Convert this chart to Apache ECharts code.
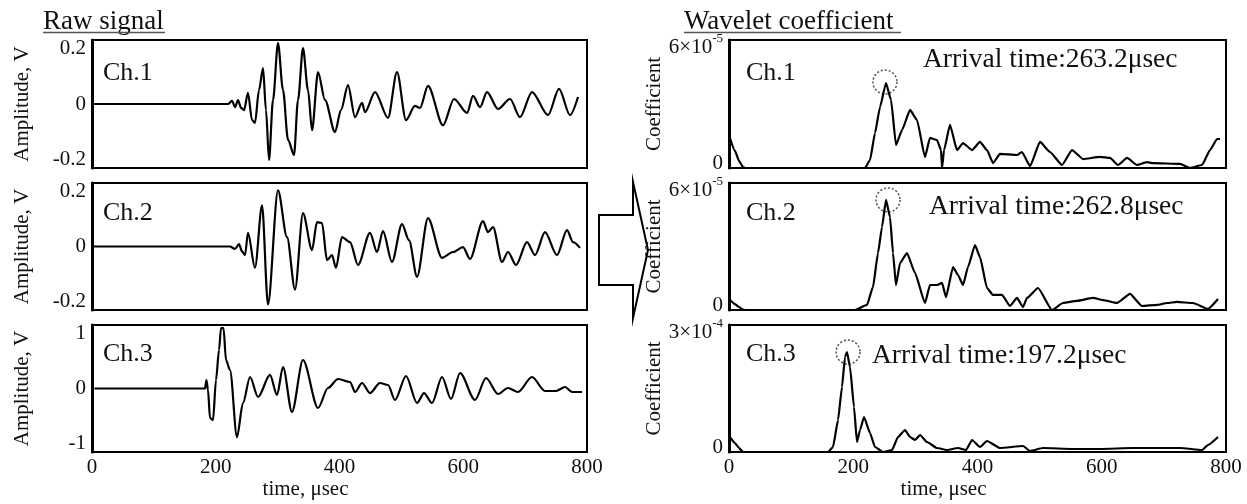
<!DOCTYPE html>
<html><head><meta charset="utf-8">
<script src="https://cdn.jsdelivr.net/npm/echarts@6/dist/echarts.min.js"></script>
<style>html,body{margin:0;padding:0;background:#fff}#c{width:1247px;height:504px}</style>
</head><body><div id="c"></div>
<script>
const FONT = '"Liberation Serif", "Times New Roman", serif';

// ---- axis ticks / labels ----
const timeTicks = [0, 200, 400, 600, 800];
const rawTicksSmall = [-0.2, 0, 0.2];
const rawTicksLarge = [-1, 0, 1];
const coefTopLabels = [['6×10', '-5'], ['6×10', '-5'], ['3×10', '-4']];
const coefScale = [1e-5, 1e-5, 1e-4];
const coefMax = [6, 6, 3];

// ---- raw signals [time µs, amplitude V] ----
const rawCh1 = [[0,0],[219.8,0],[226.3,0.011],[231.1,-0.011],[236.0,0.014],[240.8,-0.014],[245.7,-0.022],[252.1,0.040],[258.6,-0.058],[263.4,-0.068],[269.9,0.050],[276.4,0.129],[281.2,-0.022],[286.1,-0.201],[292.5,0.014],[300.6,0.219],[308.7,0.050],[316.8,-0.129],[326.5,-0.183],[332.9,0.014],[341.0,0.201],[349.1,0.050],[355.6,-0.094],[365.3,0.115],[376.6,0.014],[392.7,-0.101],[402.4,-0.022],[413.7,0.068],[425.1,-0.047],[436.4,0.004],[441.2,-0.029],[457.4,0.043],[478.4,-0.050],[492.9,0.115],[507.5,-0.058],[522.0,-0.007],[530.1,-0.014],[543.0,0.065],[567.3,-0.076],[585.1,0.018],[606.1,-0.032],[615.8,0.029],[627.1,-0.011],[638.4,0.043],[656.2,-0.018],[675.6,0.018],[691.7,-0.047],[711.1,0.043],[737.0,-0.040],[754.8,0.054],[772.5,-0.040],[785.5,0.025]];
const rawCh2 = [[0,0],[223.0,0],[231.1,-0.009],[237.6,0.009],[242.4,-0.018],[247.3,-0.031],[252.1,0.049],[263.4,-0.077],[274.8,0.149],[284.4,-0.210],[300.6,0.203],[315.2,0.034],[328.1,-0.156],[341.0,0.121],[355.6,-0.013],[363.6,0.088],[371.7,0.085],[379.8,-0.049],[387.9,-0.031],[394.3,-0.077],[404.0,0.034],[417.0,0.016],[429.9,-0.067],[449.3,0.049],[460.6,-0.020],[470.3,0.056],[484.8,-0.056],[501.0,0.081],[512.3,0.023],[525.3,-0.110],[543.0,0.103],[565.7,-0.041],[583.5,-0.020],[599.6,-0.002],[610.9,-0.045],[631.9,0.092],[640.0,0.052],[648.1,0.070],[662.6,-0.056],[672.3,-0.020],[685.3,-0.067],[703.0,0.016],[716.0,-0.031],[732.1,0.052],[751.5,-0.031],[767.7,0.059],[777.4,0.016],[788.7,-0.005]];
const rawCh3 = [[4,0],[182.6,0],[185,0.154],[187.5,-0.03],[190.7,-0.534],[195.6,-0.571],[200.4,0.154],[205.3,0.697],[208.5,1.096],[212.5,1.096],[216.6,0.516],[223,0.335],[234.3,-0.879],[244,-0.263],[255.4,0.208],[268.3,-0.154],[287.7,0.245],[299,-0.118],[308.7,0.389],[323.2,-0.426],[341,0.516],[365.3,-0.353],[381.4,0.009],[397.6,0.172],[417,0.118],[425.1,-0.063],[436.4,0.1],[449.3,-0.082],[465.5,0.1],[478.4,0.063],[489.7,-0.208],[507.5,0.226],[525.3,-0.263],[536.6,-0.082],[549.5,-0.263],[565.7,0.208],[580.2,-0.19],[594.8,0.281],[619,-0.208],[636.8,0.19],[656.2,-0.1],[672.3,0.009],[688.5,-0.063],[711.1,0.208],[732.1,-0.045],[750,-0.045],[764.5,0.027],[775.8,-0.063],[791.9,-0.063]];

// ---- wavelet coefficients [time µs, value in units of coefScale] ----
const coefCh1 = [[1,1.45],[9.7,0.80],[16.1,0.33],[22.5,0.05],[25.8,0],[218.9,0],[227,0.375],[235,1.64],[243.1,2.86],[252.7,3.98],[260.8,3.19],[268.8,1.08],[278.5,1.78],[291.4,2.72],[302.6,2.25],[315.5,0.52],[323.5,1.41],[334.8,1.31],[341.3,0.84],[342.9,0],[346.1,0.84],[355.7,2.02],[367,0.84],[376.7,1.17],[391.2,0.84],[404,1.22],[415.3,0.84],[425,0.23],[436.2,0.66],[463.6,0.61],[471.6,0.75],[484.5,0.09],[500.6,1.22],[516.7,0.75],[536,0.14],[552.1,0.84],[569.9,0.42],[597.2,0.52],[613.3,0.47],[626.2,0.14],[640.7,0.47],[656.8,0.14],[672.9,0.28],[682.5,0.23],[726,0.19],[742.1,0],[761.4,0.14],[774.3,0.84],[785.5,1.36],[790.4,1.36]];
const coefCh2 = [[1,0.5],[9.7,0.28],[16.1,0.14],[22.5,0.02],[25.8,0],[202.8,0],[222.1,0.24],[231.8,1.09],[239.8,2.69],[246.3,3.92],[252.7,5.20],[259.2,4.39],[264,2.69],[268.8,1.18],[275.3,2.22],[286.5,2.69],[299.4,1.75],[315.5,0.33],[323.5,1.18],[334.8,1.18],[342.9,1.28],[349.3,0.61],[360.6,2.03],[368.6,1.65],[376.7,1.18],[384.7,2.03],[396,3.07],[404,2.50],[415.3,1.04],[425,0.71],[439.5,0.71],[452.3,0.19],[463.6,0.57],[473.3,0.14],[479.7,0.57],[497.4,1.04],[519.9,0],[537.6,0.33],[560.2,0.43],[585.9,0.57],[602,0.47],[624.6,0.33],[645.5,0.76],[664.8,0.19],[689,0.24],[705,0.33],[721.1,0.38],[746.9,0.33],[771,0.05],[787.1,0.52]];
const coefCh3 = [[1,0.36],[9.7,0.213],[16.1,0.094],[22.5,0],[159.4,0],[167.4,0.118],[175.5,0.756],[181.9,1.535],[186.7,2.244],[189.9,2.362],[194.8,2.008],[201.2,1.063],[206,0.236],[210.9,0.52],[217.3,0.827],[227,0.449],[235,0.118],[247.9,0],[262.4,0.047],[272,0.354],[283.3,0.52],[291.4,0.354],[299.4,0.283],[307.5,0.402],[318.7,0.236],[334.8,0.094],[350.9,0.047],[368.6,0.094],[381.5,0.047],[391.2,0.283],[404,0.118],[415.3,0.26],[436.2,0.094],[473.3,0.142],[484.5,0.024],[505.4,0.094],[553.7,0.071],[597.2,0.071],[650.3,0.094],[726,0.094],[761.4,0.047],[771,0.165],[787.1,0.354]];

// ---- arrival-time peaks (circled) ----
const arrivalPeaks = [[251, 4.03], [256, 5.2], [191.6, 2.36]];
const arrivalLabels = ['Arrival time:263.2μsec', 'Arrival time:262.8μsec', 'Arrival time:197.2μsec'];
const channelNames = ['Ch.1', 'Ch.2', 'Ch.3'];
const panelTitles = ['Raw signal', 'Wavelet coefficient'];

const chart = echarts.init(document.getElementById('c'), null, {renderer: 'canvas'});

const lefts = [92, 729], widths = [495, 497];
const tops = [40, 183, 325], heights = [128, 127, 127];
const grids = [], xAxes = [], yAxes = [], series = [];
const labelStyle = {fontFamily: FONT, fontSize: 21, color: '#111'};

for (let col = 0; col < 2; col++) {
  for (let row = 0; row < 3; row++) {
    const i = col * 3 + row;
    grids.push({left: lefts[col], top: tops[row], width: widths[col], height: heights[row],
      show: true, borderColor: '#000', borderWidth: 2, backgroundColor: 'rgba(0,0,0,0)'});
    const bottom = row === 2;
    xAxes.push({type: 'value', gridIndex: i, min: timeTicks[0], max: timeTicks[timeTicks.length - 1], interval: 200,
      axisLine: {show: false}, axisTick: {show: false}, splitLine: {show: false},
      axisLabel: Object.assign({show: bottom, margin: 5, showMinLabel: true, showMaxLabel: true}, labelStyle),
      name: bottom ? 'time, μsec' : '', nameLocation: 'middle', nameGap: 27,
      nameTextStyle: Object.assign({padding: [0, 68, 0, 0]}, labelStyle)});
    if (col === 0) {
      const big = row === 2;
      const lim = big ? 1.15 : 0.23;
      yAxes.push({type: 'value', gridIndex: i, min: -lim, max: lim,
        axisLine: {show: true, lineStyle: {color: '#000', width: 3}}, axisTick: {show: false}, splitLine: {show: false},
        axisLabel: Object.assign({customValues: big ? rawTicksLarge : rawTicksSmall, margin: 6,
          formatter: v => String(v)}, labelStyle),
        name: 'Amplitude, V', nameLocation: 'middle', nameGap: 59, nameTextStyle: labelStyle});
      series.push({type: 'line', xAxisIndex: i, yAxisIndex: i, data: [rawCh1, rawCh2, rawCh3][row],
        showSymbol: false, smooth: 0.3, smoothMonotone: 'x', lineStyle: {color: '#000', width: 2.2}, animation: false});
    } else {
      const sc = coefScale[row];
      const top = coefTopLabels[row];
      yAxes.push({type: 'value', gridIndex: i, min: 0, max: coefMax[row] * sc,
        axisLine: {show: true, lineStyle: {color: '#000', width: 3}}, axisTick: {show: false}, splitLine: {show: false},
        axisLabel: {customValues: [0, coefMax[row] * sc], margin: 6,
          formatter: v => v > 0 ? '{m|' + top[0] + '}{s|' + top[1] + '}' : '{z|0}',
          rich: {
            m: {fontFamily: FONT, fontSize: 21, color: '#111', lineHeight: 20, padding: [14, 0, 0, 0]},
            s: {fontFamily: FONT, fontSize: 13, color: '#111', lineHeight: 12, padding: [6, 0, 8, 0]},
            z: {fontFamily: FONT, fontSize: 21, color: '#111', lineHeight: 20, padding: [0, 0, 10, 0]}
          }},
        name: 'Coefficient', nameLocation: 'middle', nameGap: 58, nameTextStyle: labelStyle});
      const d = [coefCh1, coefCh2, coefCh3][row];
      series.push({type: 'line', xAxisIndex: i, yAxisIndex: i, data: d.map(p => [p[0], p[1] * sc]),
        showSymbol: false, smooth: 0.15, smoothMonotone: 'x', lineStyle: {color: '#000', width: 2.2}, animation: false});
      series.push({type: 'scatter', xAxisIndex: i, yAxisIndex: i,
        data: [[arrivalPeaks[row][0], arrivalPeaks[row][1] * sc]], symbol: 'circle', symbolSize: 24,
        itemStyle: {color: 'rgba(0,0,0,0)', borderColor: '#222', borderWidth: 1.5, borderType: [2, 2]},
        animation: false, silent: true, clip: false});
    }
  }
}

const T = (text, x, y, size) => ({type: 'text', x: x, y: y, silent: true,
  style: {text: text, font: size + 'px ' + FONT, fill: '#111', textAlign: 'left', textVerticalAlign: 'middle'}});

const graphic = [
  T(panelTitles[0], 43, 22, 27),
  {type: 'line', shape: {x1: 43, y1: 32.5, x2: 165, y2: 32.5}, style: {stroke: '#555', lineWidth: 1.5}},
  T(panelTitles[1], 684, 22, 27),
  {type: 'line', shape: {x1: 684, y1: 32.5, x2: 901, y2: 32.5}, style: {stroke: '#555', lineWidth: 1.5}},
  T(channelNames[0], 103, 73, 26), T(channelNames[1], 103, 213, 26), T(channelNames[2], 103, 354, 26),
  T(channelNames[0], 746, 73, 26), T(channelNames[1], 746, 213, 26), T(channelNames[2], 746, 354, 26),
  T(arrivalLabels[0], 923, 60, 27.5), T(arrivalLabels[1], 929, 207, 27.5), T(arrivalLabels[2], 872, 356, 27.5),
  {type: 'polygon', shape: {points: [[599,215],[633,215],[633,182],[648,250],[633,318],[633,285],[599,285]]},
    style: {fill: '#fff', stroke: '#000', lineWidth: 2}}
];

chart.setOption({
  animation: false,
  backgroundColor: '#fff',
  grid: grids, xAxis: xAxes, yAxis: yAxes, series: series, graphic: graphic
});
</script></body></html>
